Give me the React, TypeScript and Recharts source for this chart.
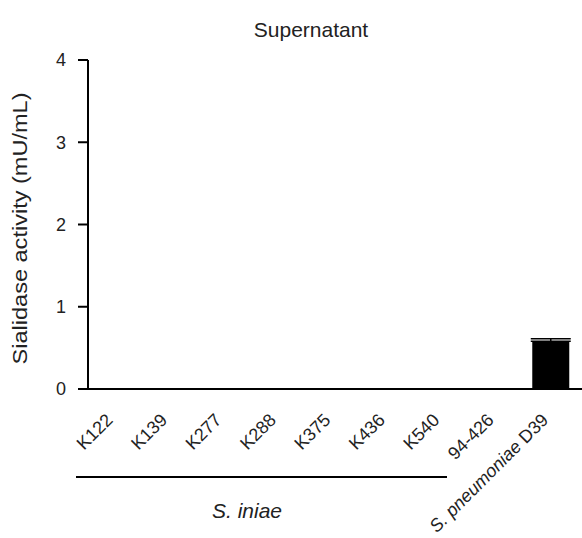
import { BarChart, Bar, XAxis, YAxis, ErrorBar } from 'recharts';

const strains = ['K122', 'K139', 'K277', 'K288', 'K375', 'K436', 'K540', '94-426', 'S. pneumoniae D39'];
const activity = [0, 0, 0, 0, 0, 0, 0, 0, 0.58];
const activityErrUp = [0, 0, 0, 0, 0, 0, 0, 0, 0.03];
const yTicks = [0, 1, 2, 3, 4];

const data = strains.map((s, i) => ({ name: s, value: activity[i], err: [0, activityErrUp[i]] }));

const FONT = '"Liberation Sans", Arial, Helvetica, sans-serif';

function StrainTick(props: any) {
  const { x, y, payload } = props;
  const label: string = payload.value;
  const italic = label.startsWith('S. ');
  return (
    <g transform={`translate(${x},${y})`}>
      <text
        x={0}
        y={0}
        dx={-18}
        dy={16}
        textAnchor='end'
        transform='rotate(-45)'
        fontSize={18}
        fontFamily={FONT}
        fill='#222'
      >
        {italic ? (
          <>
            <tspan fontStyle='italic'>S. pneumoniae</tspan>
            <tspan> D39</tspan>
          </>
        ) : (
          label
        )}
      </text>
    </g>
  );
}

function YLabel(props: any) {
  const { viewBox } = props;
  const cx = 27;
  const cy = viewBox.y + viewBox.height / 2 + 4;
  return (
    <text
      x={cx}
      y={cy}
      transform={`rotate(-90, ${cx}, ${cy})`}
      textAnchor='middle'
      fontSize={20}
      textLength={272}
      lengthAdjust='spacingAndGlyphs'
      fontFamily={FONT}
      fill='#222'
    >
      Sialidase activity (mU/mL)
    </text>
  );
}

export default function App() {
  return (
    <div style={{ position: 'absolute', left: 0, top: 0, width: 582, height: 538, background: '#fff', fontFamily: FONT }}>
      <div
        style={{
          position: 'absolute',
          left: 0,
          width: 582,
          top: 18,
          textAlign: 'center',
          fontSize: 21,
          color: '#222',
          paddingLeft: 40,
          boxSizing: 'border-box',
        }}
      >
        Supernatant
      </div>
      <BarChart
        width={582}
        height={538}
        data={data}
        margin={{ top: 60, right: 0, bottom: 0, left: 0 }}
        barCategoryGap='16%'
      >
        <XAxis
          dataKey='name'
          interval={0}
          height={149}
          tickLine={false}
          axisLine={{ stroke: '#000', strokeWidth: 2 }}
          tick={<StrainTick />}
          padding={{ left: 0, right: 4 }}
        />
        <YAxis
          width={88}
          domain={[0, 4]}
          ticks={yTicks}
          tickSize={10}
          tickLine={{ stroke: '#000', strokeWidth: 2 }}
          axisLine={{ stroke: '#000', strokeWidth: 2 }}
          tick={{ fontSize: 18, fill: '#222', fontFamily: FONT }}
          tickMargin={12}
          label={<YLabel />}
        />
        <Bar dataKey='value' isAnimationActive={false} fill='#000'>
          <ErrorBar dataKey='err' width={20} stroke='#000' strokeWidth={1.5} direction='y' />
        </Bar>
      </BarChart>
      <div style={{ position: 'absolute', left: 76, top: 476, width: 371, height: 2, background: '#000' }} />
      <div
        style={{
          position: 'absolute',
          left: 147,
          width: 200,
          top: 499,
          textAlign: 'center',
          fontSize: 21,
          fontStyle: 'italic',
          color: '#222',
        }}
      >
        S. iniae
      </div>
    </div>
  );
}
